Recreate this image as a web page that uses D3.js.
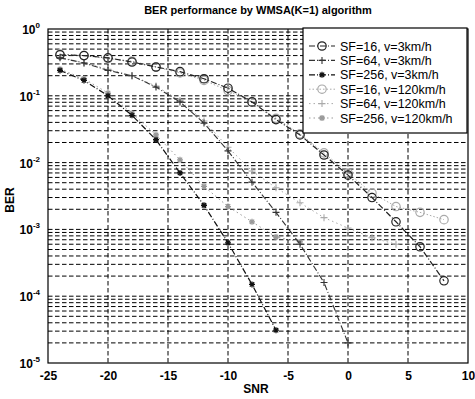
<!DOCTYPE html>
<html>
<head>
<meta charset="utf-8">
<script src="https://cdn.jsdelivr.net/npm/d3@7"></script>
<style>
  body { margin: 0; background: #fff; }
  text { font-family: "Liberation Sans", Arial, sans-serif; fill: #000; }
</style>
</head>
<body>
<div id="chart"></div>
<script>
// data
var snr = [-24, -22, -20, -18, -16, -14, -12, -10, -8, -6, -4, -2, 0, 2, 4, 6, 8];

var sf16_3 = [0.41, 0.40, 0.37, 0.32, 0.27, 0.23, 0.18, 0.13, 0.081, 0.044, 0.026, 0.013, 0.0065, 0.0030, 0.0013, 5.5e-4, 1.7e-4];
var sf64_3 = [0.37, 0.31, 0.24, 0.20, 0.135, 0.081, 0.039, 0.015, 0.0051, 0.0018, 6e-4, 1.6e-4, 2e-5];
var sf256_3 = [0.24, 0.17, 0.10, 0.051, 0.022, 0.007, 0.0023, 6.3e-4, 1.5e-4, 3.1e-5];
var sf16_120 = [0.42, 0.40, 0.36, 0.33, 0.27, 0.22, 0.17, 0.12, 0.08, 0.046, 0.027, 0.014, 0.007, 0.0035, 0.0022, 0.0018, 0.0014];
var sf64_120 = [0.38, 0.31, 0.25, 0.20, 0.14, 0.085, 0.042, 0.017, 0.0075, 0.0042, 0.0025, 0.0015, 0.00105, 7.5e-4, 6e-4];
var sf256_120 = [0.25, 0.18, 0.11, 0.055, 0.026, 0.011, 0.0044, 0.0022, 0.0013, 7.7e-4, 6.5e-4];

var seriesNames = ["SF=16, v=3km/h", "SF=64, v=3km/h", "SF=256, v=3km/h",
                   "SF=16, v=120km/h", "SF=64, v=120km/h", "SF=256, v=120km/h"];

var xTicks = [-25, -20, -15, -10, -5, 0, 5, 10];
var yExps = [0, -1, -2, -3, -4, -5];

var series = [
  {name: seriesNames[0], vals: sf16_3, marker: "circle", color: "#222", dash: "6,2,1,2", width: 1.2},
  {name: seriesNames[1], vals: sf64_3, marker: "plus", color: "#333", dash: "6,2,1,2", width: 1.1},
  {name: seriesNames[2], vals: sf256_3, marker: "star", color: "#111", dash: "6,2,1,2", width: 1.2},
  {name: seriesNames[3], vals: sf16_120, marker: "circle", color: "#aaa", dash: "1.5,2", width: 1},
  {name: seriesNames[4], vals: sf64_120, marker: "plus", color: "#aaa", dash: "1.5,3", width: 1},
  {name: seriesNames[5], vals: sf256_120, marker: "star", color: "#999", dash: "1.5,3", width: 1}
];

const W = 475, H = 399;
const pLeft = 48, pRight = 468, pTop = 29, pBottom = 363;

var svg = d3.select("#chart").append("svg")
  .attr("width", W).attr("height", H);

var x = d3.scaleLinear().domain([-25, 10]).range([pLeft, pRight]);
var y = d3.scaleLog().domain([1e-5, 1]).range([pBottom, pTop]);

/* grid */
var grid = svg.append("g").attr("class", "grid")
  .attr("stroke", "#000").attr("stroke-width", 1).attr("stroke-dasharray", "4.5,2.5");

xTicks.slice(1, -1).forEach(function(t) {
  grid.append("line")
    .attr("x1", x(t)).attr("x2", x(t))
    .attr("y1", pTop).attr("y2", pBottom);
});

var yGrid = [];
for (var e = -5; e < 0; e++) {
  for (var m = 1; m <= 9; m++) yGrid.push(m * Math.pow(10, e));
}
yGrid.forEach(function(v) {
  if (v <= 1e-5 || v >= 1) return;
  grid.append("line")
    .attr("x1", pLeft).attr("x2", pRight)
    .attr("y1", y(v)).attr("y2", y(v));
});

/* curves */
var line = d3.line()
  .x(function(d) { return x(d[0]); })
  .y(function(d) { return y(d[1]); });

function drawMarker(g, type, cx, cy, color) {
  if (type == "circle") {
    g.append("circle").attr("cx", cx).attr("cy", cy).attr("r", 4.2)
      .attr("fill", "none").attr("stroke", color).attr("stroke-width", 1.2);
  } else if (type == "plus") {
    g.append("path")
      .attr("d", `M${cx-3.5},${cy}H${cx+3.5}M${cx},${cy-3.5}V${cy+3.5}`)
      .attr("stroke", color).attr("stroke-width", 1.1);
  } else {
    g.append("path")
      .attr("d", `M${cx-3},${cy}H${cx+3}M${cx},${cy-3}V${cy+3}M${cx-2.2},${cy-2.2}L${cx+2.2},${cy+2.2}M${cx-2.2},${cy+2.2}L${cx+2.2},${cy-2.2}`)
      .attr("stroke", color).attr("stroke-width", 1.3);
  }
}

var lines = svg.append("g").attr("class", "lines");
// draw 120km/h first so 3km/h sits on top
[3, 4, 5, 0, 1, 2].forEach(function(i) {
  var s = series[i];
  var pts = s.vals.map(function(v, j) { return [snr[j], v]; });
  lines.append("path")
    .attr("d", line(pts))
    .attr("fill", "none")
    .attr("stroke", s.color)
    .attr("stroke-width", s.width)
    .attr("stroke-dasharray", s.dash);
  var mg = lines.append("g");
  pts.forEach(function(p) {
    drawMarker(mg, s.marker, x(p[0]), y(p[1]), s.color);
  });
});

/* frame */
svg.append("rect")
  .attr("x", pLeft).attr("y", pTop)
  .attr("width", pRight - pLeft).attr("height", pBottom - pTop)
  .attr("fill", "none").attr("stroke", "#000").attr("stroke-width", 1.2);

/* tick labels */
var xAxis = d3.axisBottom(x).tickValues(xTicks).tickSize(0).tickPadding(8);
var gx = svg.append("g").attr("transform", `translate(0,${pBottom})`).call(xAxis);
gx.select(".domain").remove();
gx.selectAll("text")
  .style("font-family", '"Liberation Sans", Arial, sans-serif')
  .style("font-size", "12px").style("font-weight", "bold")
  .text(function(d) { return d; });

yExps.forEach(function(e) {
  var t = svg.append("text")
    .attr("x", pLeft - 8).attr("y", y(Math.pow(10, e)) + 5)
    .attr("text-anchor", "end")
    .style("font-size", "12px").style("font-weight", "bold");
  t.append("tspan").text("10");
  t.append("tspan").attr("dy", -6).style("font-size", "8px").text(e);
});

/* title and axis names */
svg.append("text")
  .attr("x", 258).attr("y", 14)
  .attr("text-anchor", "middle")
  .style("font-size", "11px").style("font-weight", "bold")
  .text("BER performance by WMSA(K=1) algorithm");

svg.append("text")
  .attr("x", 256).attr("y", 393)
  .attr("text-anchor", "middle")
  .style("font-size", "12px").style("font-weight", "bold")
  .text("SNR");

svg.append("text")
  .attr("transform", "translate(14,200) rotate(-90)")
  .attr("text-anchor", "middle")
  .style("font-size", "12px").style("font-weight", "bold")
  .text("BER");

/* legend */
var lg = svg.append("g").attr("class", "legend");
lg.append("rect")
  .attr("x", 303).attr("y", 28)
  .attr("width", 164).attr("height", 105)
  .attr("fill", "#fff").attr("stroke", "#000").attr("stroke-width", 1.2);

series.forEach(function(s, i) {
  var ly = 46 + i * 14.4;
  lg.append("line")
    .attr("x1", 309).attr("x2", 335)
    .attr("y1", ly).attr("y2", ly)
    .attr("stroke", s.color).attr("stroke-width", s.width)
    .attr("stroke-dasharray", s.dash);
  drawMarker(lg, s.marker, 322, ly, s.color);
  lg.append("text")
    .attr("x", 340).attr("y", ly + 4.5)
    .style("font-size", "12.5px")
    .text(s.name);
});
</script>
</body>
</html>
